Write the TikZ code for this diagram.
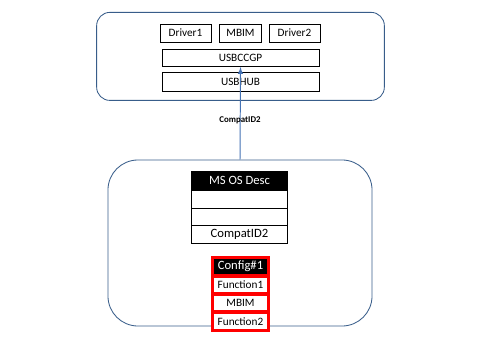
\documentclass[tikz,border=0pt]{standalone}
\usepackage{fontspec}
\setmainfont{Carlito}
\usepackage{tikz}

\definecolor{frameblue}{HTML}{385D8A}
\definecolor{lineblue}{HTML}{4472B4}

\begin{document}
\begin{tikzpicture}[
    x=0.025cm, y=-0.025cm,
    every node/.style={font=\fontsize{8}{9}\selectfont, inner sep=0pt},
    box/.style={draw, thin, minimum height=0.45cm},
    desc/.style={draw, thin, fill=white, minimum width=2.4cm, minimum height=0.445cm, font=\fontsize{9}{10}\selectfont},
    cfg/.style={draw=red, line width=2pt, fill=white, minimum width=1.4cm, minimum height=0.43cm}
]
\useasboundingbox (0,0) rectangle (480,360);

% host side
\node[draw=frameblue, line width=0.6pt, rounded corners=0.33cm, minimum width=7.19cm, minimum height=2.2cm] (host) at (240.5,56.4) {};
\node[box, minimum width=1.275cm] (drv1) at (185.5,33) {Driver1};
\node[box, minimum width=1.05cm] (mbim) at (240.5,33) {MBIM};
\node[box, minimum width=1.275cm] (drv2) at (294.5,33) {Driver2};
\node[box, minimum width=3.925cm, minimum height=0.435cm] (ccgp) at (240.5,58) {USBCCGP};
\node[box, minimum width=3.925cm, minimum height=0.46cm] (hub) at (240.5,81.8) {USBHUB};

% device side
\node[draw=frameblue, line width=0.6pt, rounded corners=0.75cm, minimum width=6.6cm, minimum height=4.15cm] (dev) at (240,243) {};
\node[desc, fill=black, text=white] (os) at (239.5,180.5) {MS OS Desc};
\node[desc] (row1) at (239.5,199) {};
\node[desc] (row2) at (239.5,216.8) {};
\node[desc] (compat) at (239.5,234.5) {CompatID2};

\node[cfg, fill=black, text=white, font=\fontsize{9}{10}\selectfont] (conf) at (240.5,266.5) {Config\#1};
\node[cfg] (fun1) at (240.5,285) {Function1};
\node[cfg] (fmbim) at (240.5,303) {MBIM};
\node[cfg] (fun2) at (240.5,321.5) {Function2};

\draw[lineblue, line width=0.7pt, -latex] (dev.north) -- (ccgp.south);
\node[font=\fontsize{6.3}{7}\selectfont\bfseries] (lbl) at (240,120) {CompatID2};
\end{tikzpicture}
\end{document}
